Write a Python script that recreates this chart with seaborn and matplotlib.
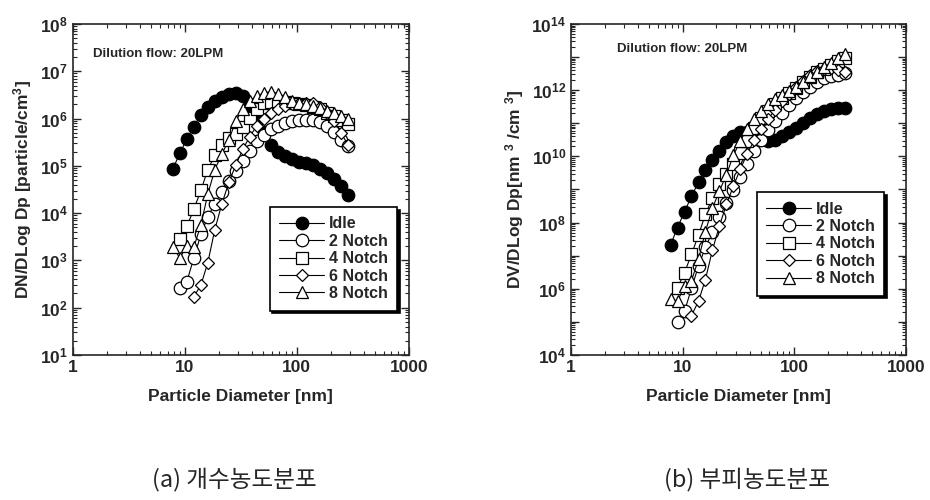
import numpy as np
import pandas as pd
import matplotlib
matplotlib.use("Agg")
import matplotlib.pyplot as plt
import matplotlib.ticker as mticker
import seaborn as sns

# particle diameter channels [nm]
diameter = [7.8, 9.0, 10.4, 12.0, 13.9, 16.0, 18.5, 21.4, 24.7, 28.5, 32.9, 38.0, 43.9,
            50.7, 58.6, 67.6, 78.1, 90.2, 104, 120, 139, 161, 185, 214, 248, 286]

series_names = ["Idle", "2 Notch", "4 Notch", "6 Notch", "8 Notch"]

# number distribution, log10(DN/DLog Dp)
n_idle = [4.93, 5.27, 5.56, 5.83, 6.08, 6.25, 6.37, 6.46, 6.53, 6.55, 6.48, 6.28, 5.98,
          5.72, 5.45, 5.30, 5.21, 5.15, 5.09, 5.05, 5.01, 4.94, 4.84, 4.72, 4.57, 4.38]
n_2notch = [np.nan, 2.42, 2.55, 3.05, 3.55, 3.92, 4.20, 4.45, 4.68, 4.90, 5.10, 5.32, 5.52,
            5.66, 5.78, 5.85, 5.90, 5.95, 5.98, 5.98, 5.96, 5.92, 5.85, 5.72, 5.55, 5.42]
n_4notch = [np.nan, 3.45, 3.72, 4.08, 4.48, 4.92, 5.22, 5.45, 5.58, 5.68, 5.82, 6.02, 6.20,
            6.32, 6.36, 6.37, 6.35, 6.33, 6.30, 6.28, 6.25, 6.20, 6.12, 6.05, 5.97, 5.88]
n_6notch = [np.nan, np.nan, np.nan, 2.23, 2.48, 2.95, 3.65, 4.20, 4.65, 5.02, 5.35, 5.62, 5.85,
            6.00, 6.12, 6.20, 6.26, 6.30, 6.32, 6.33, 6.32, 6.25, 6.12, 5.95, 5.70, 5.45]
n_8notch = [3.29, 3.05, 3.30, 3.28, 3.75, 4.40, 4.92, 5.25, 5.55, 5.95, 6.20, 6.38, 6.48,
            6.54, 6.57, 6.53, 6.45, 6.38, 6.33, 6.30, 6.27, 6.22, 6.17, 6.12, 6.06, 6.00]

# volume distribution, log10(DV/DLog Dp)
v_idle = [7.33, 7.85, 8.33, 8.79, 9.23, 9.58, 9.89, 10.17, 10.43, 10.63, 10.75, 10.74, 10.63,
          10.56, 10.47, 10.51, 10.61, 10.74, 10.86, 11.01, 11.16, 11.28, 11.36, 11.43, 11.47, 11.47]
v_2notch = [np.nan, 5.00, 5.32, 6.01, 6.70, 7.25, 7.72, 8.16, 8.58, 8.98, 9.37, 9.78, 10.17,
            10.50, 10.80, 11.06, 11.30, 11.54, 11.75, 11.94, 12.11, 12.26, 12.37, 12.43, 12.45, 12.51]
v_4notch = [np.nan, 6.03, 6.49, 7.04, 7.63, 8.25, 8.74, 9.16, 9.48, 9.76, 10.09, 10.48, 10.85,
            11.16, 11.38, 11.58, 11.75, 11.92, 12.07, 12.24, 12.40, 12.54, 12.64, 12.76, 12.87, 12.97]
v_6notch = [np.nan, np.nan, np.nan, 5.19, 5.63, 6.28, 7.17, 7.91, 8.55, 9.10, 9.62, 10.08, 10.50,
            10.84, 11.14, 11.41, 11.66, 11.89, 12.09, 12.29, 12.47, 12.59, 12.64, 12.66, 12.60, 12.54]
v_8notch = [5.69, 5.63, 6.07, 6.24, 6.90, 7.73, 8.44, 8.96, 9.45, 10.03, 10.47, 10.84, 11.13,
            11.38, 11.59, 11.74, 11.85, 11.97, 12.10, 12.26, 12.42, 12.56, 12.69, 12.83, 12.96, 13.09]

markers = {"Idle": "o", "2 Notch": "o", "4 Notch": "s", "6 Notch": "D", "8 Notch": "^"}
msizes = {"Idle": 9, "2 Notch": 9, "4 Notch": 8.5, "6 Notch": 6, "8 Notch": 8.5}
faces = {"Idle": "black", "2 Notch": "white", "4 Notch": "white", "6 Notch": "white", "8 Notch": "white"}

sns.set_style("ticks")
plt.rcParams["font.family"] = ["Liberation Sans", "DejaVu Sans"]
plt.rcParams["font.weight"] = "bold"
plt.rcParams["mathtext.fontset"] = "custom"
plt.rcParams["mathtext.rm"] = "Liberation Sans:bold"
plt.rcParams["mathtext.bf"] = "Liberation Sans:bold"
plt.rcParams["mathtext.default"] = "rm"


def make_frame(values):
    rows = []
    for name, vals in zip(series_names, values):
        for d, v in zip(diameter, vals):
            rows.append({"series": name, "dp": d, "val": 10 ** v})
    return pd.DataFrame(rows).dropna()


def style_axes(ax, ylim, label_every):
    ax.set_xscale("log")
    ax.set_yscale("log")
    ax.set_xlim(1, 1000)
    ax.set_ylim(*ylim)
    ax.xaxis.set_major_locator(mticker.LogLocator(base=10, numticks=10))
    ax.xaxis.set_minor_locator(mticker.LogLocator(base=10, subs=np.arange(2, 10), numticks=10))
    ax.xaxis.set_major_formatter(mticker.FuncFormatter(lambda v, p: f"{v:g}"))
    ax.yaxis.set_major_locator(mticker.LogLocator(base=10, numticks=20))
    ax.yaxis.set_minor_locator(mticker.LogLocator(base=10, subs=np.arange(2, 10), numticks=20))

    def yfmt(v, p):
        e = int(round(np.log10(v)))
        if e % label_every:
            return ""
        return r"$10^{%d}$" % e
    ax.yaxis.set_major_formatter(mticker.FuncFormatter(yfmt))
    ax.xaxis.set_minor_formatter(mticker.NullFormatter())
    ax.yaxis.set_minor_formatter(mticker.NullFormatter())
    ax.tick_params(which="both", direction="in", top=True, right=True, labelsize=12.5)
    ax.tick_params(which="major", length=6, width=1)
    ax.tick_params(which="minor", length=3, width=0.8)
    for sp in ax.spines.values():
        sp.set_linewidth(1.2)
    ax.set_xlabel("Particle Diameter [nm]", fontsize=12.5, fontweight="bold", labelpad=10)


def draw(ax, df):
    for name in series_names:
        sub = df[df["series"] == name]
        sns.lineplot(data=sub, x="dp", y="val", ax=ax, color="black", lw=0.8,
                     marker=markers[name], markersize=msizes[name],
                     markerfacecolor=faces[name], markeredgecolor="black",
                     markeredgewidth=0.9, label=name, sort=True)


fig = plt.figure(figsize=(9.3, 5.0), dpi=100)
ax1 = fig.add_axes([0.0785, 0.29, 0.361, 0.662])
ax2 = fig.add_axes([0.614, 0.29, 0.360, 0.662])

df_n = make_frame([n_idle, n_2notch, n_4notch, n_6notch, n_8notch])
df_v = make_frame([v_idle, v_2notch, v_4notch, v_6notch, v_8notch])

draw(ax1, df_n)
draw(ax2, df_v)

style_axes(ax1, (1e1, 1e8), 1)
style_axes(ax2, (1e4, 1e14), 2)
ax1.set_ylabel("DN/DLog Dp [particle/cm$^3$]", fontsize=12.5, fontweight="bold", labelpad=4)
ax2.set_ylabel("DV/DLog Dp[nm $^3$ /cm $^3$]", fontsize=12.5, fontweight="bold", labelpad=4)

ax1.text(0.06, 0.91, "Dilution flow: 20LPM", transform=ax1.transAxes, fontsize=9.5,
         fontweight="bold", va="center")
ax2.text(0.137, 0.925, "Dilution flow: 20LPM", transform=ax2.transAxes, fontsize=9.5,
         fontweight="bold", va="center")

for ax, anchor in [(ax1, (0.99, 0.11)), (ax2, (0.96, 0.155))]:
    leg = ax.legend(loc="lower right", bbox_to_anchor=anchor, fontsize=11.5,
                    handlelength=2.8, handletextpad=0.3, labelspacing=0.15,
                    borderpad=0.6, fancybox=False, framealpha=1,
                    edgecolor="black", shadow={"color": "black", "alpha": 1})
    leg.get_frame().set_linewidth(1.2)
    for t in leg.get_texts():
        t.set_fontweight("bold")

cjk = ["Noto Sans CJK KR", "DejaVu Sans"]
fig.text(234 / 930, 1 - 479 / 500, "(a) 개수농도분포", ha="center", va="center",
         fontsize=17, family=cjk, fontweight="normal")
fig.text(747 / 930, 1 - 479 / 500, "(b) 부피농도분포", ha="center", va="center",
         fontsize=17, family=cjk, fontweight="normal")

fig.savefig("out.png", dpi=100)
